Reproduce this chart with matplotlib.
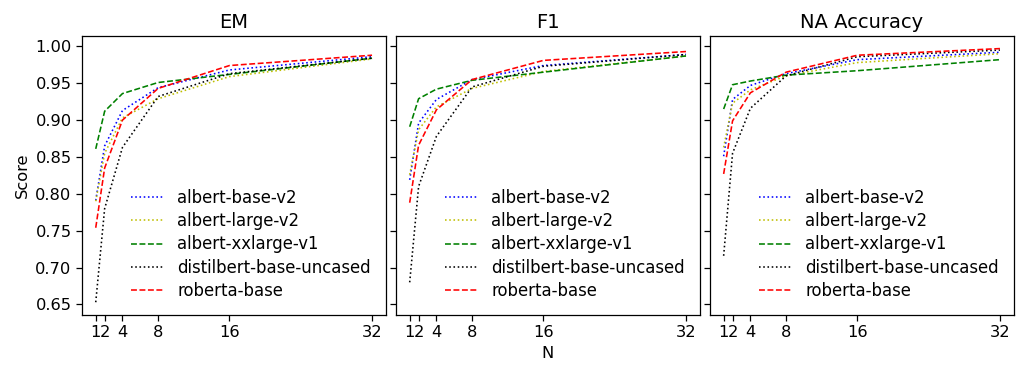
import matplotlib
matplotlib.use("Agg")
import matplotlib.pyplot as plt

# --- Données ---
N = [1, 2, 4, 8, 16, 32]
modeles = ["albert-base-v2", "albert-large-v2", "albert-xxlarge-v1",
           "distilbert-base-uncased", "roberta-base"]
couleurs = ["b", "y", "g", "k", "r"]
styles = [":", ":", "--", ":", "--"]
titres = ["EM", "F1", "NA Accuracy"]

em_base = [0.791, 0.865, 0.913, 0.944, 0.968, 0.986]
em_large = [0.790, 0.855, 0.903, 0.929, 0.959, 0.983]
em_xxlarge = [0.861, 0.912, 0.936, 0.951, 0.962, 0.984]
em_distil = [0.653, 0.780, 0.863, 0.932, 0.963, 0.984]
em_roberta = [0.754, 0.835, 0.900, 0.943, 0.974, 0.988]

f1_base = [0.819, 0.896, 0.928, 0.955, 0.974, 0.989]
f1_large = [0.826, 0.887, 0.918, 0.943, 0.966, 0.987]
f1_xxlarge = [0.891, 0.929, 0.942, 0.954, 0.965, 0.987]
f1_distil = [0.680, 0.810, 0.878, 0.945, 0.973, 0.989]
f1_roberta = [0.788, 0.866, 0.914, 0.955, 0.981, 0.993]

na_base = [0.851, 0.928, 0.947, 0.963, 0.982, 0.992]
na_large = [0.863, 0.923, 0.941, 0.960, 0.978, 0.990]
na_xxlarge = [0.915, 0.948, 0.953, 0.961, 0.967, 0.982]
na_distil = [0.716, 0.855, 0.916, 0.960, 0.986, 0.995]
na_roberta = [0.827, 0.899, 0.937, 0.965, 0.988, 0.997]

donnees = [
    [em_base, em_large, em_xxlarge, em_distil, em_roberta],
    [f1_base, f1_large, f1_xxlarge, f1_distil, f1_roberta],
    [na_base, na_large, na_xxlarge, na_distil, na_roberta],
]

# --- Graphe ---
fig, axes = plt.subplots(1, 3, figsize=(10.24, 3.74), dpi=100, sharey=True)

for ax, titre, series in zip(axes, titres, donnees):
    for nom, c, ls, y in zip(modeles, couleurs, styles, series):
        ax.plot(N, y, color=c, linestyle=ls, linewidth=1.15, label=nom)
    ax.set_title(titre, fontsize=14)
    ax.set_xticks(N)
    ax.set_xticklabels([str(n) for n in N])
    ax.legend(loc="lower right", frameon=False, fontsize=11.9, labelspacing=0.32)
    ax.tick_params(labelsize=11.7, length=4, width=0.9)
    for s in ax.spines.values():
        s.set_linewidth(0.9)

axes[0].set_ylabel("Score", fontsize=11.7)
axes[1].set_xlabel("N", fontsize=11.7)

fig.subplots_adjust(left=0.080, right=0.990, top=0.904, bottom=0.158, wspace=0.033)
fig.savefig("out.png", dpi=100)
